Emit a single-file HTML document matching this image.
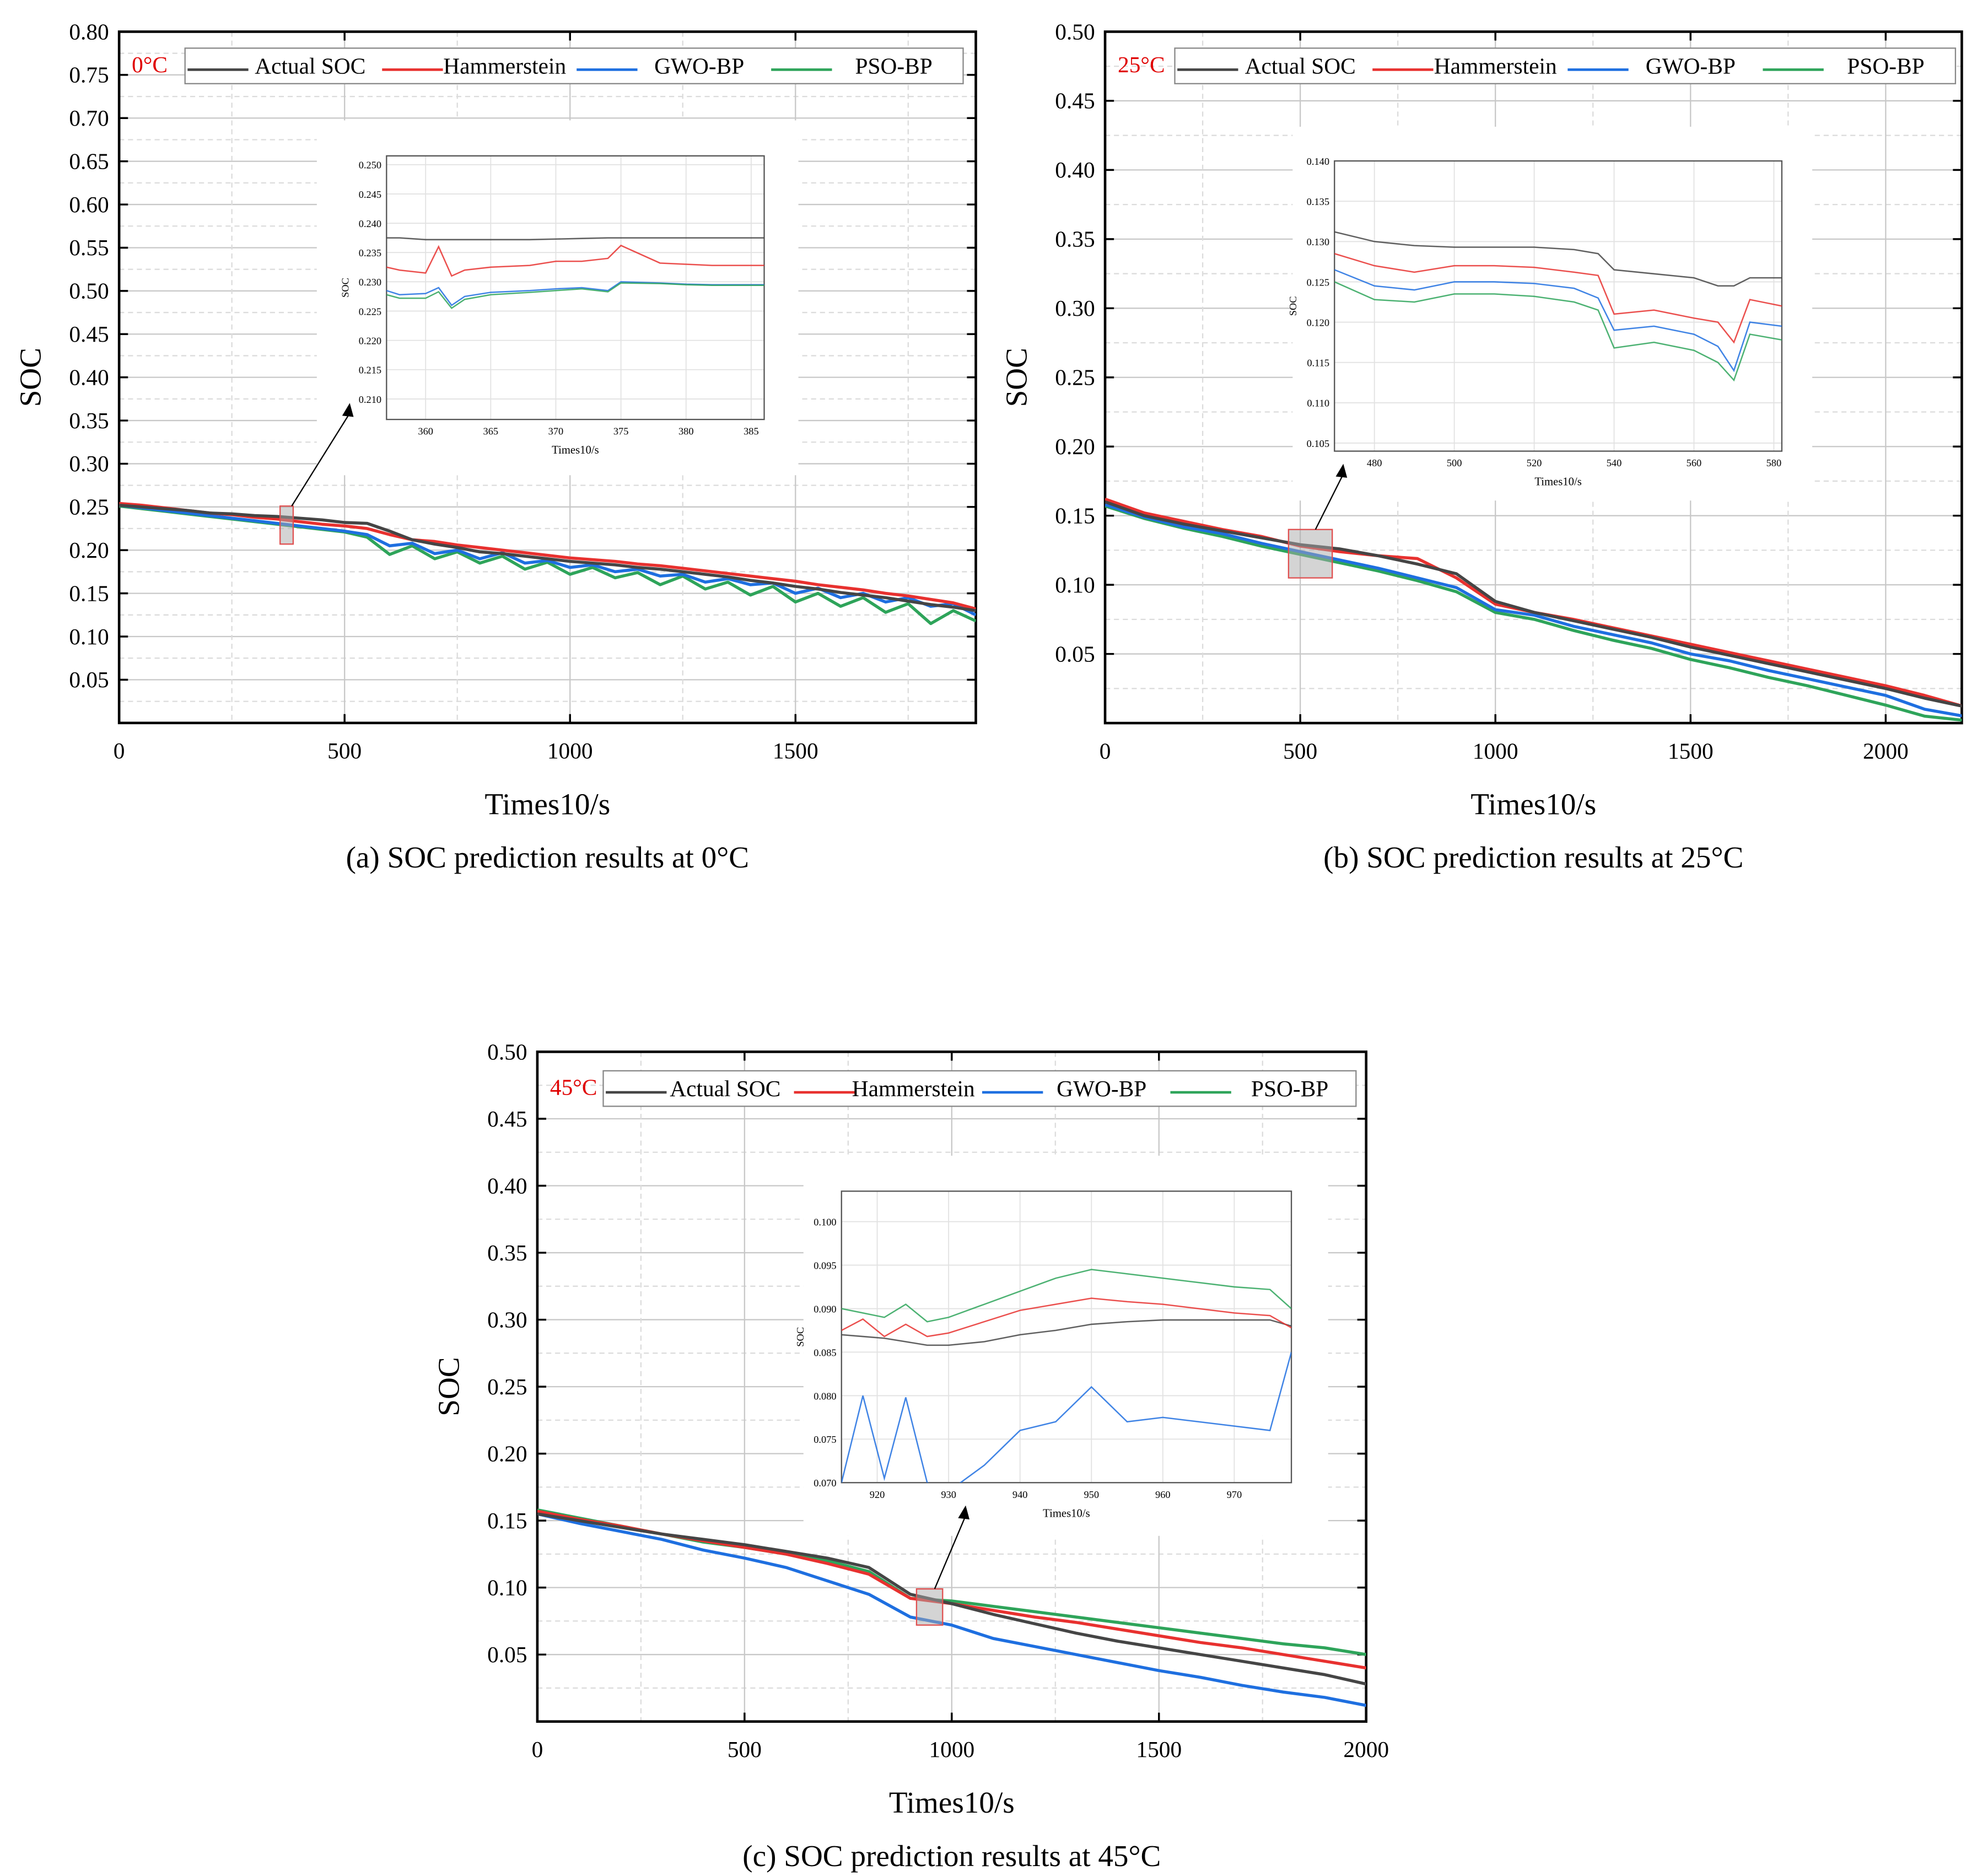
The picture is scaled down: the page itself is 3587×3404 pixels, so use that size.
<!DOCTYPE html>
<html><head><meta charset="utf-8"><title>SOC prediction results</title>
<style>html,body{margin:0;padding:0;background:#fff}svg{display:block}text{font-family:"Liberation Serif",serif}</style>
</head><body>
<svg id="fig" xmlns="http://www.w3.org/2000/svg" width="3587" height="3404" viewBox="0 0 1560 1480.4"></svg>
<script>
// ---- Panel (a) 0°C data ----
const xA = [0,50,100,150,200,250,300,350,400,450,500,550,600,650,700,750,800,850,900,950,1000,1050,1100,1150,1200,1250,1300,1350,1400,1450,1500,1550,1600,1650,1700,1750,1800,1850,1900];
const actualA = [0.252,0.250,0.248,0.246,0.243,0.242,0.240,0.239,0.237,0.235,0.232,0.231,0.222,0.212,0.207,0.203,0.198,0.196,0.193,0.190,0.187,0.185,0.183,0.180,0.178,0.175,0.172,0.169,0.165,0.162,0.158,0.155,0.151,0.148,0.145,0.141,0.137,0.134,0.130];
const hammA = [0.254,0.252,0.249,0.246,0.243,0.241,0.238,0.236,0.233,0.230,0.228,0.225,0.218,0.212,0.210,0.206,0.203,0.200,0.197,0.194,0.191,0.189,0.187,0.184,0.182,0.179,0.176,0.173,0.170,0.167,0.164,0.160,0.157,0.154,0.150,0.147,0.143,0.139,0.132];
const gwoA = [0.252,0.249,0.246,0.243,0.240,0.237,0.234,0.231,0.228,0.225,0.222,0.218,0.205,0.208,0.196,0.200,0.190,0.197,0.185,0.188,0.180,0.183,0.175,0.178,0.170,0.172,0.163,0.167,0.160,0.162,0.150,0.156,0.145,0.150,0.140,0.145,0.135,0.138,0.125];
const psoA = [0.251,0.248,0.245,0.242,0.239,0.236,0.233,0.230,0.227,0.224,0.221,0.215,0.195,0.205,0.190,0.198,0.185,0.193,0.178,0.186,0.172,0.180,0.168,0.174,0.160,0.170,0.155,0.163,0.148,0.158,0.140,0.150,0.135,0.145,0.128,0.138,0.115,0.130,0.118];
const insXA = [357,358,360,361,362,363,365,368,370,372,374,375,378,380,382,386];
const insActA = [0.2375,0.2375,0.2372,0.2372,0.2372,0.2372,0.2372,0.2372,0.2373,0.2374,0.2375,0.2375,0.2375,0.2375,0.2375,0.2375];
const insHamA = [0.2325,0.2320,0.2315,0.2360,0.2310,0.2320,0.2325,0.2328,0.2335,0.2335,0.2340,0.2362,0.2332,0.2330,0.2328,0.2328];
const insGwoA = [0.2285,0.2278,0.2280,0.2290,0.2260,0.2275,0.2282,0.2285,0.2288,0.2290,0.2285,0.2300,0.2298,0.2296,0.2295,0.2295];
const insPsoA = [0.2278,0.2272,0.2272,0.2283,0.2255,0.2270,0.2278,0.2282,0.2285,0.2288,0.2283,0.2298,0.2297,0.2295,0.2294,0.2294];
// ---- Panel (b) 25°C data ----
const xB = [0,100,200,300,400,500,600,700,800,900,1000,1100,1200,1300,1400,1500,1600,1700,1800,1900,2000,2100,2200];
const actualB = [0.160,0.150,0.144,0.139,0.134,0.129,0.126,0.121,0.115,0.108,0.088,0.080,0.074,0.068,0.062,0.055,0.049,0.043,0.037,0.031,0.025,0.018,0.012];
const hammB = [0.162,0.152,0.146,0.140,0.135,0.128,0.124,0.121,0.119,0.105,0.086,0.080,0.075,0.069,0.063,0.057,0.051,0.045,0.039,0.033,0.027,0.020,0.012];
const gwoB = [0.158,0.149,0.142,0.137,0.130,0.124,0.118,0.112,0.105,0.098,0.082,0.078,0.070,0.064,0.058,0.050,0.045,0.038,0.032,0.026,0.020,0.010,0.005];
const psoB = [0.157,0.148,0.141,0.135,0.128,0.122,0.116,0.110,0.103,0.095,0.080,0.075,0.067,0.060,0.054,0.046,0.040,0.033,0.027,0.020,0.013,0.005,0.002];
const insXB = [470,480,490,500,510,520,530,536,540,550,560,566,570,574,582];
const insActB = [0.1312,0.1300,0.1295,0.1293,0.1293,0.1293,0.1290,0.1285,0.1265,0.1260,0.1255,0.1245,0.1245,0.1255,0.1255];
const insHamB = [0.1285,0.1270,0.1262,0.1270,0.1270,0.1268,0.1262,0.1258,0.1210,0.1215,0.1205,0.1200,0.1175,0.1228,0.1220];
const insGwoB = [0.1265,0.1245,0.1240,0.1250,0.1250,0.1248,0.1242,0.1230,0.1190,0.1195,0.1185,0.1170,0.1140,0.1200,0.1195];
const insPsoB = [0.1250,0.1228,0.1225,0.1235,0.1235,0.1232,0.1225,0.1215,0.1168,0.1175,0.1165,0.1150,0.1128,0.1185,0.1178];
// ---- Panel (c) 45°C data ----
const xC = [0,100,200,300,400,500,600,700,800,900,1000,1100,1200,1300,1400,1500,1600,1700,1800,1900,2000];
const actualC = [0.155,0.150,0.145,0.140,0.136,0.132,0.127,0.122,0.115,0.095,0.088,0.080,0.073,0.066,0.060,0.055,0.050,0.045,0.040,0.035,0.028];
const hammC = [0.157,0.151,0.146,0.140,0.135,0.130,0.125,0.118,0.110,0.092,0.088,0.083,0.078,0.074,0.069,0.064,0.059,0.055,0.050,0.045,0.040];
const gwoC = [0.155,0.148,0.142,0.136,0.128,0.122,0.115,0.105,0.095,0.078,0.072,0.062,0.056,0.050,0.044,0.038,0.033,0.027,0.022,0.018,0.012];
const psoC = [0.158,0.152,0.146,0.140,0.134,0.130,0.125,0.120,0.112,0.092,0.090,0.086,0.082,0.078,0.074,0.070,0.066,0.062,0.058,0.055,0.050];
const insXC = [915,918,921,924,927,930,935,940,945,950,955,960,965,970,975,978];
const insActC = [0.0870,0.0868,0.0866,0.0862,0.0858,0.0858,0.0862,0.0870,0.0875,0.0882,0.0885,0.0887,0.0887,0.0887,0.0887,0.0880];
const insHamC = [0.0875,0.0888,0.0868,0.0882,0.0868,0.0872,0.0885,0.0898,0.0905,0.0912,0.0908,0.0905,0.0900,0.0895,0.0892,0.0878];
const insGwoC = [0.0700,0.0800,0.0705,0.0798,0.0700,0.0690,0.0720,0.0760,0.0770,0.0810,0.0770,0.0775,0.0770,0.0765,0.0760,0.0850];
const insPsoC = [0.0900,0.0895,0.0890,0.0905,0.0885,0.0890,0.0905,0.0920,0.0935,0.0945,0.0940,0.0935,0.0930,0.0925,0.0922,0.0900];

const NS = "http://www.w3.org/2000/svg";
const svg = document.getElementById('fig');
const COL = {act:'#454545', ham:'#e8312f', gwo:'#1e6fe0', pso:'#2ea45a'};
function mk(tag, attrs, parent){const e=document.createElementNS(NS,tag);for(const k in attrs)e.setAttribute(k,attrs[k]);(parent||svg).appendChild(e);return e;}
function txt(s, attrs, parent){const e=mk('text',attrs,parent);e.textContent=s;return e;}

function drawPanel(p){
  const g = mk('g',{});
  
  
  const X = v => p.x0 + (v - p.xmin)/(p.xmax - p.xmin)*(p.x1 - p.x0);
  const Y = v => p.y1 - (v - p.ymin)/(p.ymax - p.ymin)*(p.y1 - p.y0);
  // grid
  for(let v=p.ymin+p.ystep/2; v<p.ymax-1e-9; v+=p.ystep/2){
    const major = Math.abs(Math.round(v/p.ystep)*p.ystep - v) < 1e-9;
    mk('line',{x1:p.x0,x2:p.x1,y1:Y(v),y2:Y(v),stroke:major?'#c8c8c8':'#dcdcdc','stroke-width':1,'stroke-dasharray':major?'':'4,3'},g);
  }
  for(let v=p.xmin+p.xstep/2; v<p.xmax; v+=p.xstep/2){
    const major = Math.abs(Math.round(v/p.xstep)*p.xstep - v) < 1e-9;
    mk('line',{x1:X(v),x2:X(v),y1:p.y0,y2:p.y1,stroke:major?'#c8c8c8':'#dcdcdc','stroke-width':1,'stroke-dasharray':major?'':'4,3'},g);
  }
  // frame
  mk('rect',{x:p.x0,y:p.y0,width:p.x1-p.x0,height:p.y1-p.y0,fill:'none',stroke:'#000','stroke-width':2},g);
  // ticks & labels
  for(let i=1;i*p.ystep<=p.ymax+1e-9;i++){
    const v=p.ymin+i*p.ystep, y=Y(v);
    mk('line',{x1:p.x0,x2:p.x0+7,y1:y,y2:y,stroke:'#000','stroke-width':1.5},g);
    mk('line',{x1:p.x1,x2:p.x1-7,y1:y,y2:y,stroke:'#000','stroke-width':1.5},g);
    const t=txt(v.toFixed(2),{x:p.x0-8,y:y+6,'font-size':18,'text-anchor':'end'},g);
    
    
  }
  for(let v=p.xmin; v<=p.xmax; v+=p.xstep){
    const x=X(v);
    mk('line',{x1:x,x2:x,y1:p.y1,y2:p.y1-7,stroke:'#000','stroke-width':1.5},g);
    mk('line',{x1:x,x2:x,y1:p.y0,y2:p.y0+7,stroke:'#000','stroke-width':1.5},g);
    const t=txt(String(v),{x:x,y:p.y1+28,'font-size':18,'text-anchor':'middle'},g);
    
    
  }
  const yt=txt('SOC',{x:0,y:0,'font-size':24,'text-anchor':'middle',transform:`translate(${p.x0-62},${(p.y0+p.y1)/2}) rotate(-90)`},g);
   
  const xt=txt('Times10/s',{x:(p.x0+p.x1)/2,y:p.y1+72,'font-size':24,'text-anchor':'middle'},g);
   
  const cap=txt(p.caption,{x:(p.x0+p.x1)/2,y:p.y1+114,'font-size':24,'text-anchor':'middle'},g);
   
  // series
  const clip = 'clip-'+p.name;
  const cp = mk('clipPath',{id:clip},g); mk('rect',{x:p.x0,y:p.y0,width:p.x1-p.x0,height:p.y1-p.y0},cp);
  const series=[['pso',p.pso],['gwo',p.gwo],['ham',p.ham],['act',p.act]];
  const order = p.order || series;
  for(const [k,arr] of order){
    const d = arr.map((v,i)=>(i?'L':'M')+X(p.xs[i]).toFixed(2)+','+Y(v).toFixed(2)).join('');
    const path=mk('path',{d,fill:'none',stroke:COL[k],'stroke-width':2.4,'clip-path':`url(#${clip})`,'stroke-linejoin':'round'},g);
    
    
  }
  // highlight box + arrow
  const hb=p.hl;
  const hr=mk('rect',{x:X(hb[0]),y:Y(hb[3]),width:X(hb[1])-X(hb[0]),height:Y(hb[2])-Y(hb[3]),fill:'rgba(170,170,170,0.5)',stroke:'#e05050','stroke-width':1},g);
   
  // inset
  const I=p.inset;
  mk('rect',{x:I.bg[0],y:I.bg[1],width:I.bg[2],height:I.bg[3],fill:'#fff'},g);
  const IX=v=>I.x0+(v-I.xmin)/(I.xmax-I.xmin)*(I.x1-I.x0);
  const IY=v=>I.y1-(v-I.ymin)/(I.ymax-I.ymin)*(I.y1-I.y0);
  const ig=mk('g',{},g);  
  for(let v=I.yt0; v<=I.ymax+1e-9; v+=I.ytstep){
    mk('line',{x1:I.x0,x2:I.x1,y1:IY(v),y2:IY(v),stroke:'#e2e2e2','stroke-width':0.8},ig);
    txt(v.toFixed(3),{x:I.x0-4,y:IY(v)+3,'font-size':8,'text-anchor':'end'},ig);
  }
  for(const v of I.xticks){
    mk('line',{x1:IX(v),x2:IX(v),y1:I.y0,y2:I.y1,stroke:'#e2e2e2','stroke-width':0.8},ig);
    txt(String(v),{x:IX(v),y:I.y1+12,'font-size':8,'text-anchor':'middle'},ig);
  }
  mk('rect',{x:I.x0,y:I.y0,width:I.x1-I.x0,height:I.y1-I.y0,fill:'none',stroke:'#555','stroke-width':1},ig);
  txt('SOC',{x:0,y:0,'font-size':8,'text-anchor':'middle',transform:`translate(${I.x0-30},${(I.y0+I.y1)/2}) rotate(-90)`},ig);
  txt('Times10/s',{x:(I.x0+I.x1)/2,y:I.y1+27,'font-size':9,'text-anchor':'middle'},ig);
  const iclip='iclip-'+p.name; const icp=mk('clipPath',{id:iclip},ig); mk('rect',{x:I.x0,y:I.y0,width:I.x1-I.x0,height:I.y1-I.y0},icp);
  for(const [k,arr] of [['act',I.act],['ham',I.ham],['gwo',I.gwo],['pso',I.pso]]){
    const d=arr.map((v,i)=>(i?'L':'M')+IX(I.xs[i]).toFixed(2)+','+IY(v).toFixed(2)).join('');
    const pp=mk('path',{d,fill:'none',stroke:COL[k],'stroke-width':1.1,'stroke-opacity':0.85,'clip-path':`url(#${iclip})`},ig);
     
  }
  // arrow
  const ax1=(X(hb[0])+X(hb[1]))/2+4, ay1=Y(hb[3]);
  mk('line',{x1:ax1,y1:ay1,x2:p.arrowTo[0],y2:p.arrowTo[1]+8,stroke:'#000','stroke-width':1},g);
  mk('polygon',{points:`${p.arrowTo[0]},${p.arrowTo[1]} ${p.arrowTo[0]-6},${p.arrowTo[1]+10} ${p.arrowTo[0]+3},${p.arrowTo[1]+11}`,fill:'#000'},g);
  // legend
  const L=p.legend;
  const lg=mk('g',{},g);  
  mk('rect',{x:L.x,y:L.y,width:L.w,height:28,fill:'#fff',stroke:'#888','stroke-width':1},lg);
  const names=[['act','Actual SOC'],['ham','Hammerstein'],['gwo','GWO-BP'],['pso','PSO-BP']];
  names.forEach(([k,n],i)=>{
    const ex=L.x+ i*L.w/4;
    const e=mk('g',{},lg);  
    mk('line',{x1:ex+2,x2:ex+50,y1:L.y+17,y2:L.y+17,stroke:COL[k],'stroke-width':2},e);
    txt(n,{x:ex+L.w/8+22,y:L.y+20,'font-size':18,'text-anchor':'middle'},e);
  });
  const tl=txt(p.temp,{x:p.x0+10,y:L.y+19,'font-size':18,fill:'#e00000'},g);
   
}

drawPanel({name:'panel-a-0c',x0:94,x1:770,y0:25,y1:570.5,xmin:0,xmax:1900,xstep:500,ymin:0,ymax:0.80,ystep:0.05,
  xs:xA,act:actualA,ham:hammA,gwo:gwoA,pso:psoA,caption:'(a) SOC prediction results at 0°C',temp:'0°C',
  legend:{x:146,y:38,w:614},hl:[357,386,0.207,0.251],arrowTo:[276,318],
  inset:{bg:[250,95,380,280],x0:305,x1:603,y0:123,y1:331,xmin:357,xmax:386,ymin:0.2065,ymax:0.2515,yt0:0.210,ytstep:0.005,xticks:[360,365,370,375,380,385],
    xs:insXA,act:insActA,ham:insHamA,gwo:insGwoA,pso:insPsoA}});
drawPanel({name:'panel-b-25c',x0:872,x1:1548,y0:25,y1:570.6,xmin:0,xmax:2195,xstep:500,ymin:0,ymax:0.50,ystep:0.05,
  xs:xB,act:actualB,ham:hammB,gwo:gwoB,pso:psoB,caption:'(b) SOC prediction results at 25°C',temp:'25°C',
  legend:{x:927,y:38,w:616},hl:[470,582,0.105,0.140],arrowTo:[1060,366],
  inset:{bg:[1020,100,410,295],x0:1053,x1:1406,y0:127,y1:356,xmin:470,xmax:582,ymin:0.104,ymax:0.140,yt0:0.105,ytstep:0.005,xticks:[480,500,520,540,560,580],
    xs:insXB,act:insActB,ham:insHamB,gwo:insGwoB,pso:insPsoB}});
drawPanel({name:'panel-c-45c',x0:424,x1:1078,y0:830,y1:1358.5,xmin:0,xmax:2000,xstep:500,ymin:0,ymax:0.50,ystep:0.05,
  xs:xC,act:actualC,ham:hammC,gwo:gwoC,pso:psoC,caption:'(c) SOC prediction results at 45°C',temp:'45°C',
  legend:{x:476,y:845,w:594},hl:[915,978,0.072,0.099],arrowTo:[762,1188],
  inset:{bg:[634,912,414,300],x0:664,x1:1019,y0:940,y1:1170,xmin:915,xmax:978,ymin:0.070,ymax:0.1035,yt0:0.070,ytstep:0.005,xticks:[920,930,940,950,960,970],
    xs:insXC,act:insActC,ham:insHamC,gwo:insGwoC,pso:insPsoC}});
</script>
</body></html>
